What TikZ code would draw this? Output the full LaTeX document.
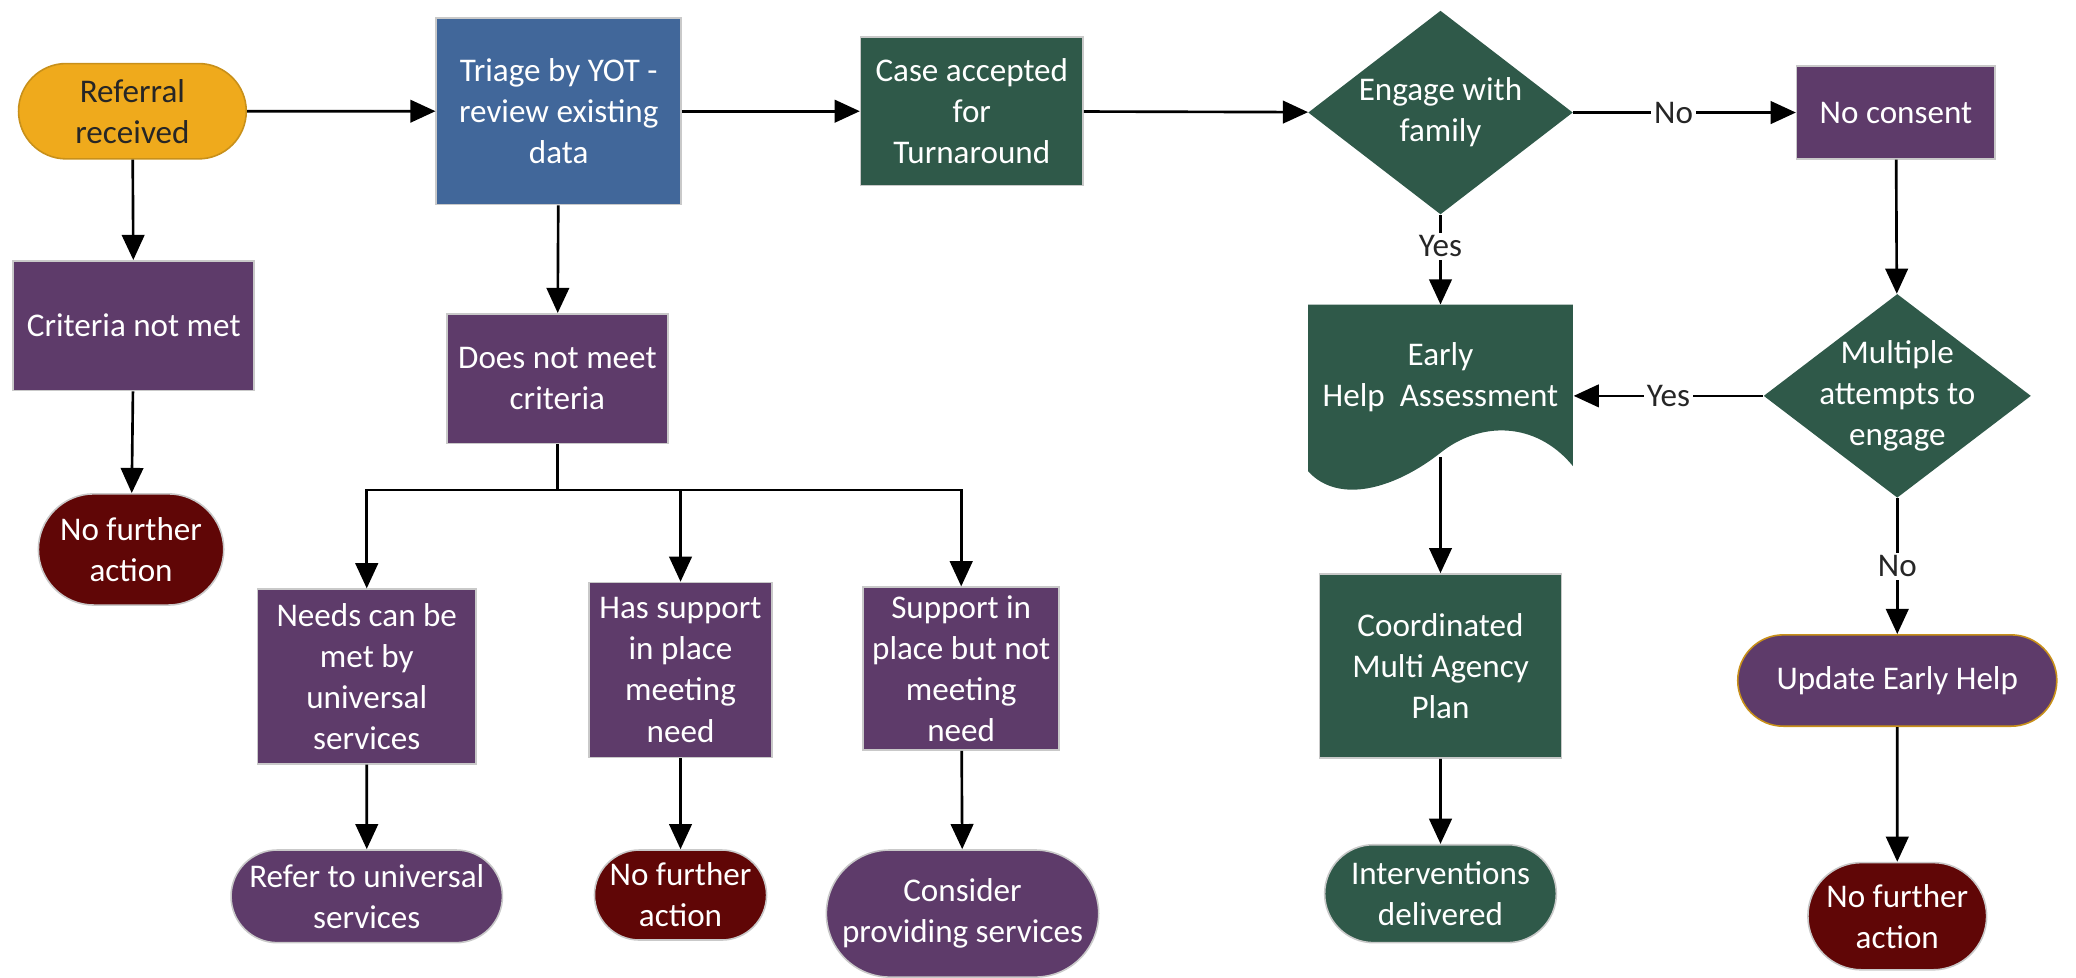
\documentclass[tikz,border=0pt]{standalone}
\usepackage{fontspec}
\setmainfont{Carlito}
\usetikzlibrary{shapes.geometric,shapes.misc,arrows.meta}
\definecolor{amber}{HTML}{EFAA1C}
\definecolor{amberdark}{HTML}{C8901A}
\definecolor{yblue}{HTML}{41679A}
\definecolor{ygreen}{HTML}{2F5949}
\definecolor{ypurple}{HTML}{5E3B6A}
\definecolor{yred}{HTML}{600606}
\definecolor{edge}{HTML}{C9C9C9}
\tikzset{
  base/.style={align=center, text=white, inner sep=2pt, font=\fontsize{12.5}{15.5}\selectfont, draw=edge, line width=0.6pt},
  pbox/.style={base, rectangle, fill=ypurple},
  gbox/.style={base, rectangle, fill=ygreen},
  term/.style={base, rounded rectangle},
  dia/.style={diamond, fill=ygreen, draw=none, inner sep=0pt},
  diatext/.style={base, draw=none, fill=none},
  conn/.style={line width=1pt, -{Triangle[length=9.5pt,width=8.5pt]}},
  plain/.style={line width=1pt},
  lbl/.style={fill=white, text=black!85, inner sep=1pt, font=\fontsize{12.5}{15}\selectfont}
}
\begin{document}
\begin{tikzpicture}[x=0.5pt,y=-0.5pt]
\useasboundingbox (0,0) rectangle (1568,738);

% top row
\node[term, fill=amber, draw=amberdark, text=black!85, minimum width=90pt, minimum height=36pt] (ref) at (100,84) {Referral\\received};
\node[base, rectangle, fill=yblue, minimum width=92.5pt, minimum height=70.5pt] (triage) at (422,84) {Triage by YOT -\\review existing\\data};
\node[gbox, minimum width=84pt, minimum height=56pt] (case) at (734,84) {Case accepted\\for\\Turnaround};
\node[dia, minimum width=100pt, minimum height=77pt] (engage) at (1088,85) {};
\node[diatext] (engaget) at (engage.center) {Engage with\\family};
\node[pbox, minimum width=75pt, minimum height=35pt] (nocons) at (1432,85) {No consent};

% left column
\node[pbox, minimum width=91pt, minimum height=49pt] (crit) at (101,246) {Criteria not met};
\node[term, fill=yred, minimum width=74pt, minimum height=42pt] (nfa1) at (99,415) {No further\\action};

% middle branch
\node[pbox, minimum width=83.5pt, minimum height=49pt] (notmeet) at (421,286) {Does not meet\\criteria};
\node[pbox, minimum width=82.5pt, minimum height=66pt] (needs) at (277,511) {Needs can be\\met by\\universal\\services};
\node[pbox, minimum width=69pt, minimum height=66pt] (has) at (514,506) {Has support\\in place\\meeting\\need};
\node[pbox, minimum width=74pt, minimum height=61.5pt] (supp) at (726,505) {Support in\\place but not\\meeting\\need};
\node[term, fill=ypurple, minimum width=101.5pt, minimum height=35pt] (refer) at (277,677) {Refer to universal\\services};
\node[term, fill=yred, minimum width=69pt, minimum height=34pt] (nfa2) at (514,676) {No further\\action};
\node[term, fill=ypurple, minimum width=100.5pt, minimum height=48pt] (consider) at (727,690) {Consider\\providing services};

% right part
\fill[ygreen] (988,230) -- (1188,230) -- (1188,352)
  .. controls (1160,318) and (1118,318) .. (1088,342)
  .. controls (1055,368) and (1012,382) .. (988,356) -- cycle;
\node[base, draw=none, minimum width=100pt, minimum height=50pt] (early) at (1088,285) {Early\\Help\ \ Assessment};
\coordinate (eb) at (1088,345);
\coordinate (et) at (1088,230);
\node[dia, minimum width=101pt, minimum height=77pt] (mult) at (1433,299) {};
\node[diatext] (multt) at (mult.center) {Multiple\\attempts to\\engage};
\node[gbox, minimum width=91.5pt, minimum height=69.5pt] (plan) at (1088,503) {Coordinated\\Multi Agency\\Plan};
\node[term, fill=ygreen, minimum width=91.5pt, minimum height=37pt] (interv) at (1088,675) {Interventions\\delivered};
\node[term, fill=ypurple, draw=amberdark, minimum width=124.5pt, minimum height=34.5pt] (update) at (1433,514) {Update Early Help};
\node[term, fill=yred, minimum width=71.5pt, minimum height=40.5pt] (nfa3) at (1433,692) {No further\\action};

% connectors
\draw[conn] (ref) -- (triage);
\draw[conn] (triage) -- (case);
\draw[conn] (case) -- (engage);
\draw[conn] (engage) -- node[lbl, pos=0.45] {No} (nocons);
\draw[conn] (engage.south) -- node[lbl, pos=0.35] {Yes} (et);
\draw[conn] (nocons) -- (mult);
\draw[conn] (mult.west) -- node[lbl, pos=0.5] {Yes} (mult.west -| early.east);
\draw[conn] (mult.south) -- node[lbl, pos=0.5] {No} (update.north);
\draw[conn] (update) -- (nfa3);
\draw[conn] (eb) -- (plan);
\draw[conn] (plan) -- (interv);

\draw[conn] (ref) -- (crit);
\draw[conn] (crit) -- (nfa1);
\draw[conn] (triage) -- (notmeet);
\coordinate (br) at (421,370);
\draw[plain] (notmeet) -- (br);
\draw[conn] (br) -| (needs.north);
\draw[conn] (br) -| (has.north);
\draw[conn] (br) -| (supp.north);
\draw[conn] (needs) -- (refer);
\draw[conn] (has) -- (nfa2);
\draw[conn] (supp) -- (consider);
\end{tikzpicture}
\end{document}
